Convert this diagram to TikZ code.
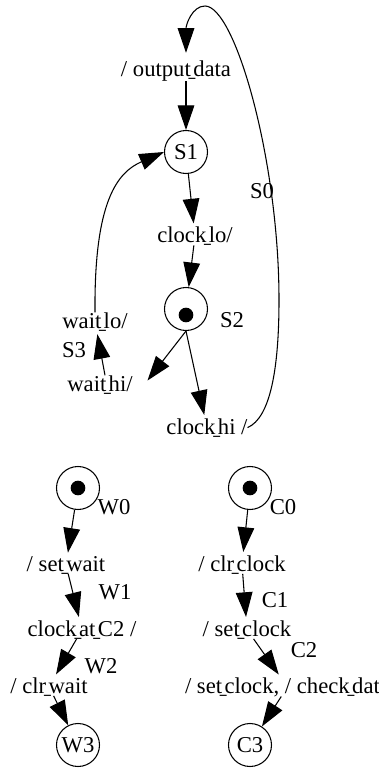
\documentclass[tikz,border=0pt]{standalone}
\usepackage{graphicx}
\usepackage{fontspec}
\setmainfont{Liberation Serif}
\usetikzlibrary{arrows.meta,calc}
\newcommand{\us}{\makebox[1.8pt][c]{\scalebox{0.6}[1]{\_}}}
\begin{document}
\begin{tikzpicture}[x=0.75pt,y=-0.75pt,
  font=\fontsize{17}{20}\selectfont,
  state/.style={circle,draw,line width=0.8pt,minimum size=32.25pt,inner sep=0pt},
  dotmark/.style={circle,fill,minimum size=11pt,inner sep=0pt},
  lbl/.style={inner sep=0pt,outer sep=0pt,anchor=base},
  tr/.style={line width=0.8pt,-{Triangle[length=18.5pt,width=12.5pt]}},
  totext/.style={tr,shorten >=2.5pt},
]
\useasboundingbox[fill=white] (0,0) rectangle (378,770);

% upper machine
\node[lbl] (outdata) at (176,76.5) {/ output\us data};
\node[state] (s1) at (186,152) {S1};
\node[lbl] (clocklo) at (195,242.5) {clock\us lo/};
\node[state] (s2) at (186,309) {};
\node[dotmark] (s2dot) at (186,315) {};
\node[lbl] (s2lbl) at (232,327) {S2};
\node[lbl] (waitlo) at (95,328) {wait\us lo/};
\node[lbl] (s3lbl) at (74,357) {S3};
\node[lbl] (waithi) at (100,391) {wait\us hi/};
\node[lbl] (clockhi) at (207,434) {clock\us hi /};
\node[lbl] (s0lbl) at (262,198) {S0};

\draw[tr] (outdata.south -| s1) -- (s1);
\draw[totext] (s1) -- (clocklo);
\draw[tr] (clocklo) -- (s2);
\draw[tr,shorten >=1pt] (s2.south) -- ($(waithi.east)+(14,-3)$);
\draw[totext] (s2.south) -- (clockhi);
\draw[totext] ($(waithi.north)+(5,0)$) -- (waitlo);
\draw[tr] (waitlo.north) .. controls (94,200) and (118,172) .. (s1.west);
\draw[tr,shorten >=6pt] (clockhi.east) .. controls (270,418) and (279,370) .. (279,300)
  .. controls (279,160) and (235,6) .. (205,6)
  .. controls (192,6) and (186,25) .. (outdata.north -| s1);

% W machine
\node[state] (w0) at (78,488) {};
\node[dotmark] (w0dot) at (78,488) {};
\node[lbl] (w0lbl) at (114,514) {W0};
\node[lbl] (setwait) at (66,571) {/ set\us wait};
\node[lbl] (w1lbl) at (115,599) {W1};
\node[lbl] (clockat) at (82,636) {clock\us at\us C2 /};
\node[lbl] (w2lbl) at (101,673) {W2};
\node[lbl] (clrwait) at (49,693) {/ clr\us wait};
\node[state] (w3) at (78,745) {W3};

\draw[totext] (w0) -- (setwait);
\draw[totext] (setwait) -- (clockat);
\draw[totext] (clockat) -- (clrwait);
\draw[tr] (clrwait) -- (w3);

% C machine
\node[state] (c0) at (250,488) {};
\node[dotmark] (c0dot) at (250,488) {};
\node[lbl] (c0lbl) at (283,514) {C0};
\node[lbl] (clrclock) at (242,571) {/ clr\us clock};
\node[lbl] (c1lbl) at (275,607) {C1};
\node[lbl] (setclock) at (247,636) {/ set\us clock};
\node[lbl] (c2lbl) at (304,657) {C2};
\node[lbl,anchor=base west] (check) at (185,693) {/ set\us clock, / check\us data};
\node[state] (c3) at (250,745) {C3};

\draw[totext] (c0) -- (clrclock);
\draw[totext] (clrclock) -- (setclock);
\draw[totext] (setclock) -- (check);
\draw[tr] (check) -- (c3);
\end{tikzpicture}
\end{document}
